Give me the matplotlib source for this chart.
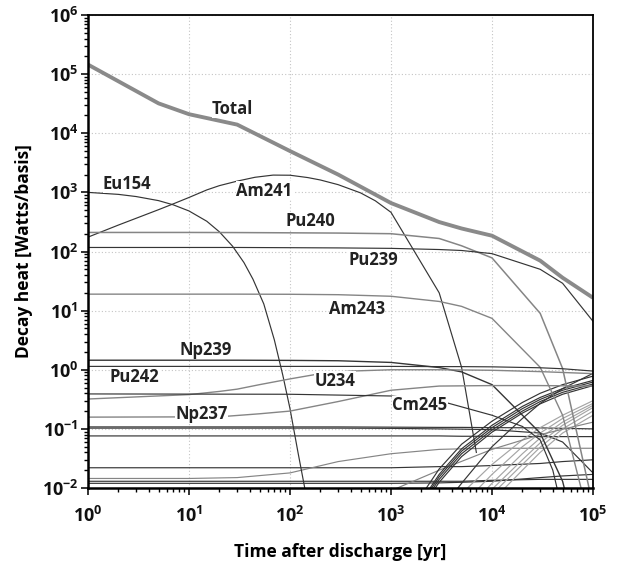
import math
import matplotlib
matplotlib.use("Agg")
import matplotlib.pyplot as plt
from matplotlib.ticker import LogLocator, FuncFormatter, NullFormatter

# time grid used by most nuclides [yr]
T13 = [1, 5, 10, 30, 100, 300, 1e3, 3e3, 5e3, 1e4, 3e4, 5e4, 1e5]

total = [1.45e5, 3.2e4, 2.1e4, 1.4e4, 5.0e3, 2.0e3, 6.6e2, 3.15e2, 2.45e2, 1.85e2, 7.0e1, 3.6e1, 1.65e1]
pu240 = [210, 210, 210, 209, 207, 205, 200, 166, 125, 78, 9.0, 1.05, 0.005]
pu239 = [117, 117, 117, 117, 116, 115, 113, 108, 104, 92, 50, 29, 6.6]
am243 = [19, 19, 19, 19, 18.9, 18.6, 17.5, 14.3, 11.8, 7.4, 1.1, 0.17, 0.0016]
np239 = [1.45, 1.45, 1.45, 1.45, 1.44, 1.42, 1.33, 1.09, 0.92, 0.56, 0.085, 0.013, 0.00012]
pu242 = [1.14, 1.14, 1.14, 1.14, 1.14, 1.14, 1.14, 1.13, 1.13, 1.12, 1.08, 1.04, 0.95]

am241_t = [1, 2, 3, 5, 7, 10, 15, 20, 30, 45, 68, 100, 150, 200, 300, 500, 700, 1e3, 3e3, 5e3, 7e3]
am241 = [175, 280, 365, 510, 640, 820, 1100, 1300, 1550, 1800, 1960, 1950, 1780, 1620, 1350,
         980, 720, 460, 20, 1.1, 0.04]

eu154_t = [1, 2, 3, 5, 7, 10, 15, 20, 27, 35, 43, 55, 70, 85, 100, 120, 140, 170]
eu154 = [1000, 925, 850, 725, 615, 485, 325, 215, 123, 65, 34, 13, 3.2, 0.8, 0.22, 0.04, 0.01, 0.0008]

u234_t = [1, 10, 20, 30, 50, 100, 200, 400, 1e3, 3e3, 1e4, 3e4, 1e5]
u234 = [0.32, 0.38, 0.43, 0.47, 0.56, 0.7, 0.86, 0.95, 1.0, 1.0, 0.98, 0.93, 0.86]

np237_t = [1, 20, 50, 100, 300, 1e3, 3e3, 1e4, 3e4, 1e5]
np237 = [0.158, 0.16, 0.18, 0.2, 0.29, 0.45, 0.53, 0.54, 0.54, 0.53]

cm245_t = [1, 100, 1e3, 3e3, 1e4, 2e4, 3e4, 4e4, 5e4]
cm245 = [0.39, 0.385, 0.36, 0.30, 0.17, 0.11, 0.065, 0.02, 0.004]

# unlabeled nuclides on the T13 grid
flat_a = [0.108, 0.108, 0.108, 0.108, 0.108, 0.108, 0.107, 0.106, 0.106, 0.105, 0.104, 0.102, 0.1]
flat_b = [0.103, 0.103, 0.103, 0.103, 0.103, 0.103, 0.102, 0.1, 0.099, 0.097, 0.085, 0.06, 0.018]
flat_c = [0.076, 0.076, 0.076, 0.076, 0.076, 0.076, 0.076, 0.076, 0.075, 0.075, 0.074, 0.074, 0.074]
flat_d = [0.022, 0.022, 0.022, 0.022, 0.022, 0.022, 0.022, 0.023, 0.023, 0.024, 0.026, 0.028, 0.03]
rise_e = [0.0145, 0.0145, 0.0145, 0.015, 0.018, 0.028, 0.038, 0.045, 0.046, 0.047, 0.047, 0.047, 0.047]
flat_f = [0.013, 0.013, 0.013, 0.013, 0.013, 0.013, 0.013, 0.013, 0.013, 0.0135, 0.014, 0.014, 0.014]
flat_g = [0.012, 0.012, 0.012, 0.012, 0.012, 0.012, 0.012, 0.0122, 0.0125, 0.013, 0.015, 0.016, 0.017]

# late ingrowth, dark bundle
TB = [2e3, 3e3, 5e3, 1e4, 2e4, 3e4, 5e4, 1e5]
bund1 = [0.0075, 0.021, 0.055, 0.135, 0.28, 0.40, 0.56, 0.78]
bund2 = [0.006, 0.017, 0.046, 0.115, 0.24, 0.34, 0.48, 0.66]
bund3 = [0.0055, 0.0155, 0.042, 0.105, 0.22, 0.315, 0.45, 0.62]
bund4 = [0.005, 0.014, 0.038, 0.096, 0.20, 0.29, 0.415, 0.575]
bund5 = [0.0045, 0.0125, 0.034, 0.088, 0.185, 0.265, 0.385, 0.54]

rise_t = [3e3, 5e3, 1e4, 2e4, 3e4, 5e4, 1e5]
rise_dark = [0.004, 0.012, 0.05, 0.15, 0.27, 0.48, 0.87]

# late ingrowth, light bundle
TC = [5e3, 1e4, 2e4, 3e4, 5e4, 1e5]
light1 = [0.008, 0.025, 0.065, 0.105, 0.17, 0.30]
light2 = [0.005, 0.017, 0.05, 0.085, 0.15, 0.27]
light3 = [0.0035, 0.012, 0.038, 0.07, 0.13, 0.25]
light4 = [0.0025, 0.0095, 0.03, 0.058, 0.115, 0.23]
light5 = [0.002, 0.0078, 0.025, 0.049, 0.10, 0.20]
light6 = [0.0015, 0.006, 0.02, 0.04, 0.085, 0.17]

gray_t = [1e3, 3e3, 1e4, 3e4, 1e5]
gray_rise = [0.009, 0.02, 0.045, 0.08, 0.13]

# label text and position (t, value)
labels = ["Total", "Eu154", "Am241", "Pu240", "Pu239", "Am243",
          "Np239", "Pu242", "U234", "Np237", "Cm245"]
label_t = [27, 2.45, 56, 158, 670, 460, 14.7, 2.9, 280, 13.4, 1930]
label_v = [2.6e4, 1.4e3, 1.07e3, 330, 73, 10.8, 2.2, 0.76, 0.65, 0.18, 0.255]


DARK = "#353535"
GRAY = "#858585"
LIGHT = "#a5a5a5"


def setup_fonts():
    plt.rcParams["font.family"] = ["Open Sans", "DejaVu Sans"]
    plt.rcParams["font.weight"] = "bold"
    plt.rcParams["mathtext.fontset"] = "custom"
    plt.rcParams["mathtext.rm"] = "Open Sans:bold"
    plt.rcParams["mathtext.it"] = "Open Sans:bold"
    plt.rcParams["mathtext.bf"] = "Open Sans:bold"


def power_label(val, pos):
    exp = int(round(math.log10(val)))
    return r"$\mathrm{10^{%d}}$" % exp


def plot_decay_heat(save_path="out.png"):
    fig = plt.figure(figsize=(6.17, 5.66), dpi=100)
    ax = fig.add_axes([0.1426, 0.1378, 0.8185, 0.8357])

    lw = 0.85
    # background nuclides first
    for ys in (flat_a, flat_b, flat_c):
        ax.plot(T13, ys, color=DARK, linewidth=lw)
    for ys in (flat_d, flat_f, flat_g):
        ax.plot(T13, ys, color=DARK, linewidth=lw)
    ax.plot(T13, rise_e, color=GRAY, linewidth=lw)

    for ys in (light1, light2, light3, light4, light5, light6):
        ax.plot(TC, ys, color=LIGHT, linewidth=lw)
    ax.plot(gray_t, gray_rise, color=GRAY, linewidth=lw)
    for ys in (bund1, bund2, bund3, bund4, bund5):
        ax.plot(TB, ys, color=DARK, linewidth=lw)
    ax.plot(rise_t, rise_dark, color=DARK, linewidth=lw)

    # labelled nuclides
    ax.plot(eu154_t, eu154, color=DARK, linewidth=lw)
    ax.plot(am241_t, am241, color=DARK, linewidth=lw)
    ax.plot(T13, pu240, color=GRAY, linewidth=1.1)
    ax.plot(T13, pu239, color=DARK, linewidth=lw)
    ax.plot(T13, am243, color=GRAY, linewidth=1.0)
    ax.plot(T13, np239, color=DARK, linewidth=1.0)
    ax.plot(T13, pu242, color=DARK, linewidth=lw)
    ax.plot(u234_t, u234, color=GRAY, linewidth=1.0)
    ax.plot(np237_t, np237, color=GRAY, linewidth=1.0)
    ax.plot(cm245_t, cm245, color=DARK, linewidth=lw)

    ax.plot(T13, total, color="#8a8a8a", linewidth=2.8, solid_capstyle="butt")

    for name, t, v in zip(labels, label_t, label_v):
        ax.text(t, v, name, fontsize=12, fontweight="bold", color="#222222",
                ha="center", va="center",
                bbox=dict(facecolor="white", edgecolor="none", pad=0.3))

    ax.set_xscale("log")
    ax.set_yscale("log")
    ax.set_xlim(1, 1e5)
    ax.set_ylim(1e-2, 1e6)

    ax.xaxis.set_major_locator(LogLocator(base=10, numticks=10))
    ax.yaxis.set_major_locator(LogLocator(base=10, numticks=12))
    ax.xaxis.set_minor_locator(LogLocator(base=10, subs=range(2, 10), numticks=20))
    ax.yaxis.set_minor_locator(LogLocator(base=10, subs=range(2, 10), numticks=20))
    ax.xaxis.set_major_formatter(FuncFormatter(power_label))
    ax.yaxis.set_major_formatter(FuncFormatter(power_label))
    ax.xaxis.set_minor_formatter(NullFormatter())
    ax.yaxis.set_minor_formatter(NullFormatter())

    ax.tick_params(which="major", direction="out", length=5, width=1.2,
                   labelsize=13, colors="#111111")
    ax.tick_params(which="minor", direction="out", length=3, width=1.0)
    ax.tick_params(axis="x", which="major", pad=8)
    ax.tick_params(axis="y", which="major", pad=2)

    ax.grid(True, which="major", linestyle=(0, (1, 2)), color="#c4c4c4", linewidth=0.8)
    ax.set_axisbelow(True)

    for side in ("top", "right"):
        ax.spines[side].set_linewidth(1.3)
    for side in ("left", "bottom"):
        ax.spines[side].set_linewidth(1.8)

    ax.set_xlabel("Time after discharge [yr]", fontsize=12.5, fontweight="bold", labelpad=12)
    ax.set_ylabel("Decay heat [Watts/basis]", fontsize=12.5, fontweight="bold", labelpad=6)

    fig.savefig(save_path, dpi=100)
    plt.close(fig)


if __name__ == "__main__":
    setup_fonts()
    plot_decay_heat()
